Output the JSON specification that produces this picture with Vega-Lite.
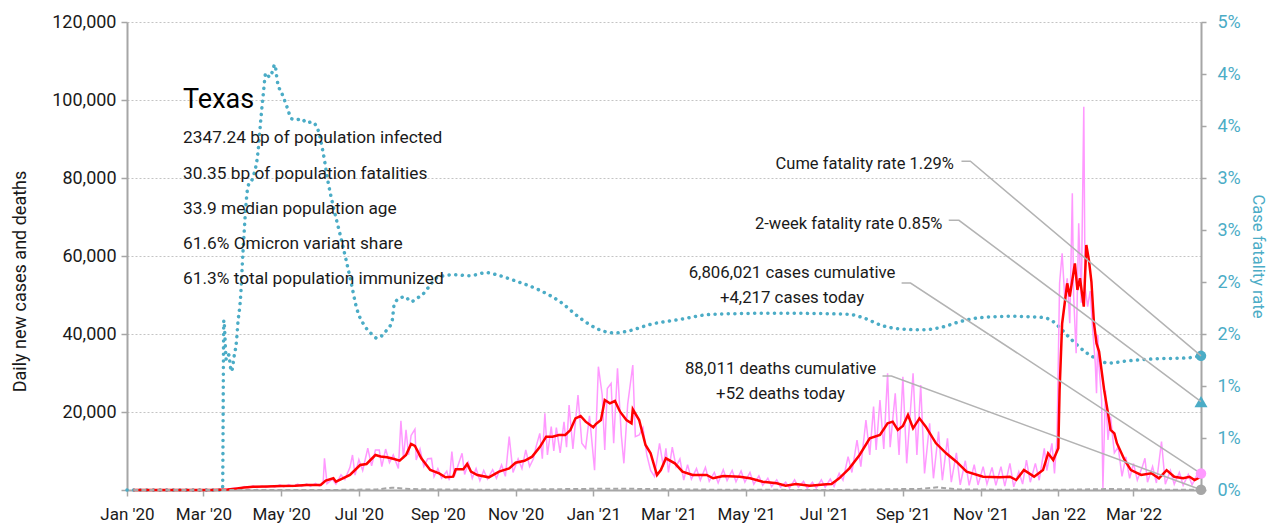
{
  "$schema": "https://vega.github.io/schema/vega-lite/v6.json",
  "width": 1074,
  "height": 468,
  "autosize": {"type": "none"},
  "padding": {"left": 127, "top": 22, "right": 67, "bottom": 37},
  "background": "white",
  "config": {
    "view": {"stroke": null},
    "font": "Roboto",
    "axis": {
      "labelFont": "Roboto",
      "titleFont": "Roboto",
      "labelFontSize": 18,
      "titleFontSize": 18,
      "titleFontWeight": "normal",
      "labelColor": "#1a1a1a",
      "titleColor": "#1a1a1a",
      "domainColor": "#a6a6a6",
      "domainWidth": 2,
      "tickColor": "#a6a6a6",
      "tickWidth": 1.5,
      "tickSize": 6
    }
  },
  "datasets": {
    "daily": [
      {"d":"2020-01-06","v":0},{"d":"2020-03-08","v":0},{"d":"2020-03-16","v":20},{"d":"2020-03-22","v":300},{"d":"2020-03-26","v":500},{"d":"2020-03-29","v":250},
      {"d":"2020-04-02","v":900},{"d":"2020-04-05","v":500},{"d":"2020-04-09","v":1100},{"d":"2020-04-12","v":600},{"d":"2020-04-16","v":1000},{"d":"2020-04-19","v":650},
      {"d":"2020-04-23","v":1100},{"d":"2020-04-26","v":700},{"d":"2020-04-30","v":1300},{"d":"2020-05-03","v":800},{"d":"2020-05-07","v":1400},{"d":"2020-05-10","v":900},
      {"d":"2020-05-14","v":1500},{"d":"2020-05-17","v":900},{"d":"2020-05-21","v":1600},{"d":"2020-05-24","v":950},{"d":"2020-05-28","v":1700},{"d":"2020-05-31","v":1000},
      {"d":"2020-06-03","v":2000},{"d":"2020-06-04","v":8100},{"d":"2020-06-06","v":1600},{"d":"2020-06-10","v":2800},{"d":"2020-06-13","v":1500},{"d":"2020-06-17","v":3900},
      {"d":"2020-06-20","v":2700},{"d":"2020-06-24","v":5800},{"d":"2020-06-26","v":8970},{"d":"2020-06-28","v":3800},{"d":"2020-07-01","v":7800},{"d":"2020-07-04","v":5000},
      {"d":"2020-07-08","v":10700},{"d":"2020-07-11","v":6200},{"d":"2020-07-14","v":10250},{"d":"2020-07-17","v":10250},{"d":"2020-07-19","v":6000},{"d":"2020-07-22","v":10500},
      {"d":"2020-07-25","v":7000},{"d":"2020-07-28","v":9000},{"d":"2020-08-01","v":5500},{"d":"2020-08-03","v":17770},{"d":"2020-08-05","v":8000},{"d":"2020-08-07","v":15400},
      {"d":"2020-08-09","v":9000},{"d":"2020-08-11","v":14000},{"d":"2020-08-14","v":15560},{"d":"2020-08-15","v":7700},{"d":"2020-08-18","v":10500},{"d":"2020-08-21","v":6000},
      {"d":"2020-08-24","v":8000},{"d":"2020-08-27","v":8100},{"d":"2020-08-29","v":3400},{"d":"2020-09-01","v":5500},{"d":"2020-09-04","v":3000},{"d":"2020-09-08","v":4800},
      {"d":"2020-09-10","v":2500},{"d":"2020-09-12","v":9830},{"d":"2020-09-14","v":3500},{"d":"2020-09-17","v":6500},{"d":"2020-09-20","v":9400},{"d":"2020-09-22","v":4000},
      {"d":"2020-09-25","v":7000},{"d":"2020-09-28","v":3000},{"d":"2020-10-01","v":5500},{"d":"2020-10-04","v":2400},{"d":"2020-10-07","v":5000},{"d":"2020-10-10","v":2800},
      {"d":"2020-10-14","v":5200},{"d":"2020-10-17","v":3000},{"d":"2020-10-21","v":6410},{"d":"2020-10-24","v":3500},{"d":"2020-10-27","v":13670},{"d":"2020-10-30","v":4500},
      {"d":"2020-11-03","v":8000},{"d":"2020-11-06","v":5500},{"d":"2020-11-09","v":10250},{"d":"2020-11-12","v":6000},{"d":"2020-11-15","v":8000},{"d":"2020-11-17","v":11000},
      {"d":"2020-11-20","v":14530},{"d":"2020-11-22","v":8000},{"d":"2020-11-24","v":19660},{"d":"2020-11-26","v":9000},{"d":"2020-11-29","v":16230},{"d":"2020-12-01","v":10000},
      {"d":"2020-12-03","v":16000},{"d":"2020-12-06","v":9500},{"d":"2020-12-09","v":17500},{"d":"2020-12-11","v":11000},{"d":"2020-12-13","v":21790},{"d":"2020-12-16","v":10500},
      {"d":"2020-12-20","v":24360},{"d":"2020-12-23","v":12000},{"d":"2020-12-26","v":10690},{"d":"2020-12-29","v":19000},{"d":"2021-01-02","v":5100},{"d":"2021-01-05","v":31620},
      {"d":"2021-01-08","v":24360},{"d":"2021-01-10","v":10250},{"d":"2021-01-12","v":26000},{"d":"2021-01-15","v":27350},{"d":"2021-01-17","v":12000},{"d":"2021-01-20","v":31200},
      {"d":"2021-01-23","v":14000},{"d":"2021-01-25","v":6840},{"d":"2021-01-28","v":22000},{"d":"2021-02-01","v":32050},{"d":"2021-02-03","v":13670},{"d":"2021-02-06","v":14100},
      {"d":"2021-02-09","v":16000},{"d":"2021-02-12","v":9000},{"d":"2021-02-15","v":5000},{"d":"2021-02-18","v":3500},{"d":"2021-02-22","v":11970},{"d":"2021-02-25","v":6000},
      {"d":"2021-02-27","v":10690},{"d":"2021-03-01","v":4500},{"d":"2021-03-04","v":11000},{"d":"2021-03-07","v":5980},{"d":"2021-03-10","v":8000},{"d":"2021-03-13","v":2560},
      {"d":"2021-03-16","v":6500},{"d":"2021-03-19","v":2800},{"d":"2021-03-23","v":5500},{"d":"2021-03-26","v":2500},{"d":"2021-03-30","v":5800},{"d":"2021-04-02","v":2200},
      {"d":"2021-04-06","v":4500},{"d":"2021-04-09","v":1800},{"d":"2021-04-13","v":5200},{"d":"2021-04-16","v":2400},{"d":"2021-04-20","v":5000},{"d":"2021-04-23","v":2100},
      {"d":"2021-04-27","v":4900},{"d":"2021-04-30","v":2000},{"d":"2021-05-04","v":4500},{"d":"2021-05-07","v":1500},{"d":"2021-05-11","v":3600},{"d":"2021-05-14","v":1200},
      {"d":"2021-05-18","v":3000},{"d":"2021-05-21","v":900},{"d":"2021-05-25","v":2600},{"d":"2021-05-28","v":700},{"d":"2021-06-01","v":2000},{"d":"2021-06-04","v":500},
      {"d":"2021-06-08","v":2600},{"d":"2021-06-11","v":700},{"d":"2021-06-15","v":2200},{"d":"2021-06-18","v":400},{"d":"2021-06-22","v":2000},{"d":"2021-06-25","v":500},
      {"d":"2021-06-29","v":2600},{"d":"2021-07-02","v":700},{"d":"2021-07-06","v":2800},{"d":"2021-07-09","v":900},{"d":"2021-07-13","v":4270},{"d":"2021-07-16","v":2500},
      {"d":"2021-07-20","v":8550},{"d":"2021-07-23","v":4500},{"d":"2021-07-27","v":12820},{"d":"2021-07-30","v":6000},{"d":"2021-08-03","v":17950},{"d":"2021-08-06","v":9000},
      {"d":"2021-08-09","v":21370},{"d":"2021-08-11","v":10250},{"d":"2021-08-14","v":23080},{"d":"2021-08-17","v":10500},{"d":"2021-08-20","v":29920},{"d":"2021-08-22","v":11000},
      {"d":"2021-08-26","v":24790},{"d":"2021-08-29","v":9000},{"d":"2021-09-01","v":29060},{"d":"2021-09-04","v":6840},{"d":"2021-09-09","v":29920},{"d":"2021-09-12","v":9000},
      {"d":"2021-09-15","v":26920},{"d":"2021-09-18","v":4270},{"d":"2021-09-22","v":17100},{"d":"2021-09-25","v":3000},{"d":"2021-09-29","v":15000},{"d":"2021-10-02","v":2500},
      {"d":"2021-10-06","v":13250},{"d":"2021-10-09","v":2000},{"d":"2021-10-13","v":9500},{"d":"2021-10-16","v":1300},{"d":"2021-10-20","v":7500},{"d":"2021-10-23","v":1200},
      {"d":"2021-10-27","v":6500},{"d":"2021-10-30","v":1300},{"d":"2021-11-03","v":5980},{"d":"2021-11-06","v":1500},{"d":"2021-11-10","v":5800},{"d":"2021-11-13","v":1200},
      {"d":"2021-11-17","v":6000},{"d":"2021-11-20","v":1000},{"d":"2021-11-24","v":6840},{"d":"2021-11-27","v":800},{"d":"2021-12-01","v":4700},{"d":"2021-12-04","v":1500},
      {"d":"2021-12-07","v":7690},{"d":"2021-12-10","v":2000},{"d":"2021-12-14","v":6840},{"d":"2021-12-17","v":2500},{"d":"2021-12-21","v":10690},{"d":"2021-12-23","v":5000},
      {"d":"2021-12-27","v":11970},{"d":"2021-12-29","v":4270},{"d":"2021-12-31","v":13670},{"d":"2022-01-02","v":53000},{"d":"2022-01-04","v":60690},{"d":"2022-01-06","v":49570},
      {"d":"2022-01-08","v":54270},{"d":"2022-01-10","v":42740},{"d":"2022-01-12","v":76070},{"d":"2022-01-13","v":50000},{"d":"2022-01-15","v":35050},{"d":"2022-01-17","v":68380},
      {"d":"2022-01-19","v":48000},{"d":"2022-01-21","v":98290},{"d":"2022-01-22","v":52000},{"d":"2022-01-24","v":47000},{"d":"2022-01-26","v":51000},{"d":"2022-01-28","v":41030},
      {"d":"2022-01-30","v":32480},{"d":"2022-01-31","v":24790},{"d":"2022-02-01","v":39740},{"d":"2022-02-02","v":31620},{"d":"2022-02-04","v":23080},{"d":"2022-02-05","v":430},
      {"d":"2022-02-07","v":25640},{"d":"2022-02-09","v":12820},{"d":"2022-02-11","v":18800},{"d":"2022-02-14","v":9500},{"d":"2022-02-17","v":11000},{"d":"2022-02-20","v":3500},
      {"d":"2022-02-23","v":8500},{"d":"2022-02-26","v":3000},{"d":"2022-03-01","v":6840},{"d":"2022-03-04","v":2500},{"d":"2022-03-08","v":6000},{"d":"2022-03-10","v":8120},
      {"d":"2022-03-12","v":2000},{"d":"2022-03-16","v":6000},{"d":"2022-03-19","v":1800},{"d":"2022-03-23","v":12390},{"d":"2022-03-26","v":1500},{"d":"2022-03-30","v":5000},
      {"d":"2022-04-02","v":1500},{"d":"2022-04-06","v":4500},{"d":"2022-04-09","v":1200},{"d":"2022-04-13","v":4000},{"d":"2022-04-16","v":1300},{"d":"2022-04-20","v":4000},
      {"d":"2022-04-23","v":4217}
    ],
    "avg": [
      {"d":"2020-01-06","v":0},{"d":"2020-03-08","v":0},{"d":"2020-03-20","v":100},{"d":"2020-03-26","v":350},{"d":"2020-04-02","v":650},{"d":"2020-04-09","v":850},
      {"d":"2020-04-20","v":900},{"d":"2020-05-01","v":1000},{"d":"2020-05-12","v":1100},{"d":"2020-05-21","v":1280},{"d":"2020-06-01","v":1300},{"d":"2020-06-05","v":2400},
      {"d":"2020-06-11","v":3000},{"d":"2020-06-13","v":2130},{"d":"2020-06-18","v":2900},{"d":"2020-06-24","v":3850},{"d":"2020-07-02","v":6400},{"d":"2020-07-07","v":6670},
      {"d":"2020-07-14","v":8970},{"d":"2020-07-18","v":8600},{"d":"2020-07-23","v":8380},{"d":"2020-07-28","v":8000},{"d":"2020-08-02","v":7520},{"d":"2020-08-07","v":8970},
      {"d":"2020-08-11","v":11800},{"d":"2020-08-14","v":11280},{"d":"2020-08-19","v":8120},{"d":"2020-08-26","v":5130},{"d":"2020-09-02","v":4270},{"d":"2020-09-07","v":3250},
      {"d":"2020-09-13","v":3420},{"d":"2020-09-15","v":5300},{"d":"2020-09-21","v":5300},{"d":"2020-09-24","v":6670},{"d":"2020-09-27","v":4700},{"d":"2020-10-02","v":3850},
      {"d":"2020-10-11","v":3250},{"d":"2020-10-19","v":4700},{"d":"2020-10-27","v":5560},{"d":"2020-11-01","v":7000},{"d":"2020-11-08","v":7500},{"d":"2020-11-14","v":8550},
      {"d":"2020-11-20","v":11000},{"d":"2020-11-25","v":13670},{"d":"2020-11-30","v":13670},{"d":"2020-12-05","v":14100},{"d":"2020-12-10","v":14100},{"d":"2020-12-14","v":15380},
      {"d":"2020-12-18","v":18380},{"d":"2020-12-22","v":18970},{"d":"2020-12-26","v":17520},{"d":"2021-01-01","v":16070},{"d":"2021-01-03","v":16920},{"d":"2021-01-07","v":17950},
      {"d":"2021-01-10","v":23080},{"d":"2021-01-14","v":22220},{"d":"2021-01-18","v":22820},{"d":"2021-01-22","v":20080},{"d":"2021-01-27","v":17950},{"d":"2021-01-31","v":17100},
      {"d":"2021-02-01","v":20690},{"d":"2021-02-06","v":17950},{"d":"2021-02-11","v":11540},{"d":"2021-02-15","v":9400},{"d":"2021-02-20","v":3850},{"d":"2021-02-23","v":5130},
      {"d":"2021-02-27","v":8120},{"d":"2021-03-06","v":6840},{"d":"2021-03-12","v":4700},{"d":"2021-03-20","v":3850},{"d":"2021-03-31","v":3850},{"d":"2021-04-05","v":3000},
      {"d":"2021-04-13","v":3590},{"d":"2021-04-26","v":3420},{"d":"2021-05-04","v":3000},{"d":"2021-05-14","v":2130},{"d":"2021-05-25","v":1710},{"d":"2021-06-01","v":1100},
      {"d":"2021-06-09","v":1540},{"d":"2021-06-20","v":1100},{"d":"2021-07-03","v":1450},{"d":"2021-07-07","v":1540},{"d":"2021-07-13","v":3000},{"d":"2021-07-21","v":5560},
      {"d":"2021-07-29","v":8970},{"d":"2021-08-06","v":13250},{"d":"2021-08-14","v":14100},{"d":"2021-08-20","v":17100},{"d":"2021-08-24","v":17520},{"d":"2021-08-28","v":15380},
      {"d":"2021-09-01","v":16410},{"d":"2021-09-05","v":19230},{"d":"2021-09-09","v":15820},{"d":"2021-09-14","v":18380},{"d":"2021-09-19","v":16230},{"d":"2021-09-27","v":11970},
      {"d":"2021-10-05","v":9400},{"d":"2021-10-13","v":7260},{"d":"2021-10-21","v":4700},{"d":"2021-11-03","v":3420},{"d":"2021-11-16","v":3250},{"d":"2021-11-24","v":3420},
      {"d":"2021-11-29","v":2560},{"d":"2021-12-05","v":5130},{"d":"2021-12-13","v":3420},{"d":"2021-12-20","v":5130},{"d":"2021-12-24","v":9400},{"d":"2021-12-28","v":7690},
      {"d":"2022-01-01","v":10700},{"d":"2022-01-02","v":25600},{"d":"2022-01-04","v":42700},{"d":"2022-01-08","v":53000},{"d":"2022-01-10","v":49600},{"d":"2022-01-14","v":58100},
      {"d":"2022-01-16","v":51300},{"d":"2022-01-18","v":54300},{"d":"2022-01-21","v":47000},{"d":"2022-01-23","v":62800},{"d":"2022-01-25","v":59000},{"d":"2022-01-27","v":53400},
      {"d":"2022-01-29","v":42700},{"d":"2022-01-31","v":37600},{"d":"2022-02-02","v":35500},{"d":"2022-02-06","v":25600},{"d":"2022-02-09","v":19700},{"d":"2022-02-11","v":15400},
      {"d":"2022-02-14","v":14500},{"d":"2022-02-16","v":12000},{"d":"2022-02-22","v":7700},{"d":"2022-02-27","v":5100},{"d":"2022-03-07","v":3850},{"d":"2022-03-15","v":4300},
      {"d":"2022-03-21","v":3000},{"d":"2022-03-27","v":5100},{"d":"2022-04-02","v":3400},{"d":"2022-04-09","v":3000},{"d":"2022-04-14","v":3400},{"d":"2022-04-18","v":2560},
      {"d":"2022-04-23","v":3400}
    ],
    "deaths": [
      {"d":"2020-01-06","v":0},{"d":"2020-03-20","v":5},{"d":"2020-04-15","v":30},{"d":"2020-05-15","v":30},{"d":"2020-06-15","v":30},{"d":"2020-07-15","v":150},
      {"d":"2020-07-27","v":600},{"d":"2020-08-10","v":250},{"d":"2020-09-01","v":150},{"d":"2020-10-01","v":90},{"d":"2020-11-01","v":100},{"d":"2020-12-01","v":200},
      {"d":"2021-01-15","v":350},{"d":"2021-02-15","v":250},{"d":"2021-03-15","v":150},{"d":"2021-04-15","v":50},{"d":"2021-05-15","v":40},{"d":"2021-06-15","v":25},
      {"d":"2021-07-15","v":30},{"d":"2021-08-15","v":150},{"d":"2021-09-15","v":300},{"d":"2021-09-28","v":700},{"d":"2021-10-15","v":150},{"d":"2021-11-15","v":80},
      {"d":"2021-12-15","v":60},{"d":"2022-01-15","v":100},{"d":"2022-02-10","v":250},{"d":"2022-03-10","v":120},{"d":"2022-04-23","v":52}
    ],
    "cfr": [
      {"d":"2020-01-01","r":0},{"d":"2020-03-16","r":0},{"d":"2020-03-17","r":0.0163},{"d":"2020-03-19","r":0.0125},{"d":"2020-03-21","r":0.0130},{"d":"2020-03-22","r":0.0120},
      {"d":"2020-03-23","r":0.0114},{"d":"2020-03-25","r":0.0128},{"d":"2020-03-27","r":0.0144},{"d":"2020-03-28","r":0.0160},{"d":"2020-03-30","r":0.0183},{"d":"2020-04-01","r":0.0228},
      {"d":"2020-04-05","r":0.0292},{"d":"2020-04-09","r":0.0301},{"d":"2020-04-13","r":0.0327},{"d":"2020-04-15","r":0.0356},{"d":"2020-04-17","r":0.0381},{"d":"2020-04-19","r":0.0401},
      {"d":"2020-04-22","r":0.0397},{"d":"2020-04-24","r":0.0402},{"d":"2020-04-26","r":0.0409},{"d":"2020-04-28","r":0.0393},{"d":"2020-05-02","r":0.0380},{"d":"2020-05-06","r":0.0367},
      {"d":"2020-05-09","r":0.0357},{"d":"2020-05-13","r":0.0356},{"d":"2020-05-17","r":0.0357},{"d":"2020-05-21","r":0.0353},{"d":"2020-05-25","r":0.0354},{"d":"2020-05-30","r":0.0346},
      {"d":"2020-06-03","r":0.0324},{"d":"2020-06-07","r":0.0295},{"d":"2020-06-11","r":0.0272},{"d":"2020-06-16","r":0.0247},{"d":"2020-06-21","r":0.0221},{"d":"2020-06-25","r":0.0199},
      {"d":"2020-06-29","r":0.0176},{"d":"2020-07-06","r":0.0157},{"d":"2020-07-12","r":0.0149},{"d":"2020-07-15","r":0.0146},{"d":"2020-07-23","r":0.0154},{"d":"2020-07-27","r":0.0162},
      {"d":"2020-07-29","r":0.0180},{"d":"2020-08-02","r":0.0184},{"d":"2020-08-06","r":0.0186},{"d":"2020-08-11","r":0.0181},{"d":"2020-08-15","r":0.0184},{"d":"2020-08-20","r":0.0188},
      {"d":"2020-08-26","r":0.0197},{"d":"2020-08-31","r":0.0204},{"d":"2020-09-06","r":0.0206},{"d":"2020-09-13","r":0.0207},{"d":"2020-09-26","r":0.0206},{"d":"2020-10-09","r":0.0209},
      {"d":"2020-10-17","r":0.0207},{"d":"2020-10-25","r":0.0204},{"d":"2020-11-01","r":0.0201},{"d":"2020-11-20","r":0.0192},{"d":"2020-12-06","r":0.0181},{"d":"2020-12-22","r":0.0165},
      {"d":"2021-01-06","r":0.0154},{"d":"2021-01-18","r":0.0151},{"d":"2021-01-29","r":0.0153},{"d":"2021-02-14","r":0.0159},{"d":"2021-03-10","r":0.0164},{"d":"2021-04-05","r":0.0169},
      {"d":"2021-05-27","r":0.0170},{"d":"2021-07-20","r":0.0169},{"d":"2021-07-31","r":0.0166},{"d":"2021-08-16","r":0.0158},{"d":"2021-08-29","r":0.0155},{"d":"2021-09-16","r":0.0154},
      {"d":"2021-10-03","r":0.0157},{"d":"2021-10-16","r":0.0162},{"d":"2021-11-03","r":0.0166},{"d":"2021-11-24","r":0.0167},{"d":"2021-12-19","r":0.0166},{"d":"2021-12-29","r":0.0161},
      {"d":"2022-01-03","r":0.0155},{"d":"2022-01-11","r":0.0145},{"d":"2022-01-22","r":0.0133},{"d":"2022-02-02","r":0.0125},{"d":"2022-02-09","r":0.0122},{"d":"2022-02-23","r":0.0124},
      {"d":"2022-03-16","r":0.0126},{"d":"2022-04-12","r":0.0127},{"d":"2022-04-23","r":0.0129}
    ],
    "rateEnds": [
      {"k":"cume","d":"2022-04-23","r":0.0129},
      {"k":"twoweek","d":"2022-04-23","r":0.0085}
    ],
    "countEnds": [
      {"k":"cases","d":"2022-04-23","v":4217},
      {"k":"deaths","d":"2022-04-23","v":52}
    ],
    "leaders": [
      {"g":1,"o":1,"d":"2021-10-17","v":84282},{"g":1,"o":2,"d":"2021-10-24","v":84282},{"g":1,"o":3,"d":"2022-04-23","v":34400},
      {"g":2,"o":1,"d":"2021-10-07","v":69154},{"g":2,"o":2,"d":"2021-10-15","v":69154},{"g":2,"o":3,"d":"2022-04-23","v":22667},
      {"g":3,"o":1,"d":"2021-08-31","v":53077},{"g":3,"o":2,"d":"2021-09-07","v":53077},{"g":3,"o":3,"d":"2022-04-23","v":4217},
      {"g":4,"o":1,"d":"2021-08-16","v":29231},{"g":4,"o":2,"d":"2021-08-23","v":29231},{"g":4,"o":3,"d":"2022-04-23","v":52}
    ],
    "notes": [
      {"k":"title","d":"2020-02-14","v":97872,"t":"Texas"},
      {"k":"stat","d":"2020-02-14","v":88898,"t":"2347.24 bp of population infected"},
      {"k":"stat","d":"2020-02-14","v":79667,"t":"30.35 bp of population fatalities"},
      {"k":"stat","d":"2020-02-14","v":70692,"t":"33.9 median population age"},
      {"k":"stat","d":"2020-02-14","v":61718,"t":"61.6% Omicron variant share"},
      {"k":"stat","d":"2020-02-14","v":52744,"t":"61.3% total population immunized"},
      {"k":"right","d":"2021-10-11","v":82385,"t":"Cume fatality rate 1.29%"},
      {"k":"right","d":"2021-10-02","v":67026,"t":"2-week fatality rate 0.85%"},
      {"k":"center","d":"2021-06-06","v":54385,"t":"6,806,021 cases cumulative"},
      {"k":"center","d":"2021-06-06","v":48051,"t":"+4,217 cases today"},
      {"k":"center","d":"2021-05-28","v":29769,"t":"88,011 deaths cumulative"},
      {"k":"center","d":"2021-05-28","v":23436,"t":"+52 deaths today"}
    ]
  },
  "encoding": {
    "x": {
      "field": "d",
      "type": "temporal",
      "scale": {"type": "utc", "domain": [1577836800000, 1650672000000]},
      "axis": {
        "title": null,
        "format": "%b '%y",
        "tickCount": {"interval": "month", "step": 2},
        "grid": false,
        "labelFontSize": 17,
        "labelPadding": 10,
        "labelFlush": false,
        "labelOverlap": false
      }
    }
  },
  "layer": [
    {
      "encoding": {
        "y": {
          "field": "r",
          "type": "quantitative",
          "scale": {"domain": [0, 0.045], "nice": false, "zero": true},
          "axis": {
            "orient": "right",
            "title": "Case fatality rate",
            "titleColor": "#4bacc6",
            "titleFontSize": 16.5,
            "labelColor": "#4bacc6",
            "values": [0, 0.005, 0.01, 0.015, 0.02, 0.025, 0.03, 0.035, 0.04, 0.045],
            "labelExpr": "round(round(datum.value*1000)/10) + '%'",
            "grid": false,
            "tickSize": 5,
            "labelPadding": 11,
            "titlePadding": 9
          }
        }
      },
      "layer": [
        {
          "data": {"name": "cfr"},
          "mark": {"type": "line", "color": "#4bacc6", "strokeWidth": 3.5, "strokeDash": [0.1, 6.5], "strokeCap": "round", "interpolate": "monotone"}
        },
        {
          "data": {"name": "rateEnds"},
          "transform": [{"filter": "datum.k == 'cume'"}],
          "mark": {"type": "point", "shape": "circle", "filled": true, "color": "#4bacc6", "size": 110, "opacity": 1}
        },
        {
          "data": {"name": "rateEnds"},
          "transform": [{"filter": "datum.k == 'twoweek'"}],
          "mark": {"type": "point", "shape": "triangle-up", "filled": true, "color": "#4bacc6", "size": 170, "opacity": 1}
        }
      ]
    },
    {
      "encoding": {
        "y": {
          "field": "v",
          "type": "quantitative",
          "scale": {"domain": [0, 120000], "nice": false, "zero": true},
          "axis": {
            "orient": "left",
            "title": "Daily new cases and deaths",
            "titleY": 259,
            "values": [0, 20000, 40000, 60000, 80000, 100000, 120000],
            "labelExpr": "datum.value == 0 ? '' : format(datum.value, ',')",
            "grid": true,
            "gridColor": "#c4c4c4",
            "gridDash": [2, 2],
            "gridWidth": 1,
            "labelPadding": 5,
            "titlePadding": 22
          }
        }
      },
      "layer": [
        {
          "data": {"name": "daily"},
          "mark": {"type": "line", "color": "#ff99ff", "strokeWidth": 1.5}
        },
        {
          "data": {"name": "avg"},
          "mark": {"type": "line", "color": "#ff0000", "strokeWidth": 2.5}
        },
        {
          "data": {"name": "deaths"},
          "mark": {"type": "line", "color": "#a6a6a6", "strokeWidth": 2, "strokeDash": [5, 3]}
        },
        {
          "data": {"name": "leaders"},
          "mark": {"type": "line", "color": "#b3b3b3", "strokeWidth": 1.5},
          "encoding": {
            "detail": {"field": "g", "type": "nominal"},
            "order": {"field": "o", "type": "quantitative"}
          }
        },
        {
          "data": {"name": "countEnds"},
          "transform": [{"filter": "datum.k == 'cases'"}],
          "mark": {"type": "point", "shape": "circle", "filled": true, "color": "#ff99ff", "size": 110, "opacity": 1}
        },
        {
          "data": {"name": "countEnds"},
          "transform": [{"filter": "datum.k == 'deaths'"}],
          "mark": {"type": "point", "shape": "circle", "filled": true, "color": "#a6a6a6", "size": 110, "opacity": 1}
        },
        {
          "data": {"name": "notes"},
          "transform": [{"filter": "datum.k == 'title'"}],
          "mark": {"type": "text", "align": "left", "baseline": "alphabetic", "fontSize": 27, "color": "#000000", "font": "Roboto"},
          "encoding": {"text": {"field": "t"}}
        },
        {
          "data": {"name": "notes"},
          "transform": [{"filter": "datum.k == 'stat'"}],
          "mark": {"type": "text", "align": "left", "baseline": "alphabetic", "fontSize": 17.3, "color": "#1a1a1a", "font": "Roboto"},
          "encoding": {"text": {"field": "t"}}
        },
        {
          "data": {"name": "notes"},
          "transform": [{"filter": "datum.k == 'right'"}],
          "mark": {"type": "text", "align": "right", "baseline": "alphabetic", "fontSize": 16.5, "color": "#1a1a1a", "font": "Roboto"},
          "encoding": {"text": {"field": "t"}}
        },
        {
          "data": {"name": "notes"},
          "transform": [{"filter": "datum.k == 'center'"}],
          "mark": {"type": "text", "align": "center", "baseline": "alphabetic", "fontSize": 16.8, "color": "#1a1a1a", "font": "Roboto"},
          "encoding": {"text": {"field": "t"}}
        }
      ]
    }
  ],
  "resolve": {"scale": {"y": "independent"}}
}
